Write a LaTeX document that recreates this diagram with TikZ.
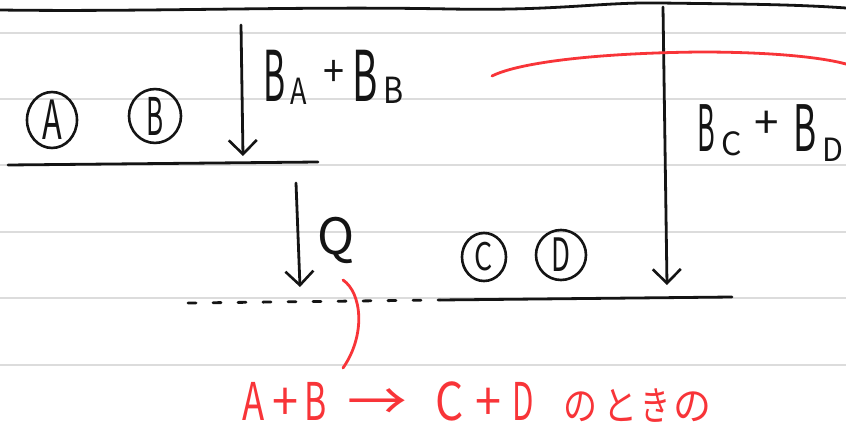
\documentclass[tikz,border=0pt]{standalone}
\usepackage{fontspec}
\setmainfont{Noto Sans CJK JP}
\usetikzlibrary{arrows.meta,shapes.geometric}
\definecolor{ink}{RGB}{20,20,20}
\definecolor{redink}{RGB}{248,52,56}
\definecolor{rule}{RGB}{220,220,220}
% glyph in a box of given width, squeezed horizontally
\newcommand{\gl}[3]{\makebox[#1][c]{\scalebox{#2}[1]{#3}}}
\newcommand{\fs}[1]{\fontsize{#1}{#1}\selectfont}
\tikzset{
  ruled/.style={draw=rule, line width=2.2pt},
  inkline/.style={draw=ink, line width=2.8pt, line cap=round, line join=round},
  arr/.style={inkline, -{Straight Barb[length=14pt,width=28pt,line width=2.6pt]}},
  circ/.style={ellipse, draw=ink, line width=2.6pt, inner sep=0pt, text=ink},
  lbl/.style={inner sep=0pt, text=ink, anchor=base west},
  redline/.style={draw=redink, line width=2.8pt, line cap=round},
}
\begin{document}
\begin{tikzpicture}[x=1pt,y=-1pt]
\useasboundingbox (0,0) rectangle (846,428);
\fill[white] (0,0) rectangle (846,428);
% ruled paper lines
\foreach \yy in {33,99,165,232,298,365} \draw[ruled] (0,\yy) -- (846,\yy);
% top wavy line
\draw[inkline] (0,10) .. controls (150,12) and (300,6) .. (450,9) .. controls (560,11) and (600,2) .. (660,3) .. controls (730,4) and (790,4) .. (846,8);
% left level
\coordinate (L1a) at (8,165);
\coordinate (L1b) at (318,162);
\draw[inkline] (L1a) -- (L1b);
% right level (dashed + solid)
\coordinate (L2a) at (188,303);
\coordinate (L2m) at (440,300);
\coordinate (L2b) at (732,297);
\draw[inkline, dash pattern=on 8pt off 17pt] (L2a) -- (L2m);
\draw[inkline] (L2m) -- (L2b);
% circles
\node[circ, minimum width=50pt, minimum height=53pt] (A) at (52,120) {\fs{54}\scalebox{0.6}[1]{A}};
\node[circ, minimum width=52pt, minimum height=52pt] (B) at (155,116) {\fs{52}\scalebox{0.5}[1]{B}};
\node[circ, minimum width=44pt, minimum height=48pt] (C) at (484,257) {\fs{38}\scalebox{0.75}[1]{C}};
\node[circ, minimum width=50pt, minimum height=50pt] (D) at (561,255) {\fs{46}\scalebox{0.6}[1]{D}};
% arrow 1
\coordinate (a1s) at (241,25);
\coordinate (a1e) at (243,156);
\draw[arr] (a1s) -- (a1e);
\node[lbl] (BAB) at (263,101) {\fs{70}\gl{22pt}{0.48}{B}\hspace{5pt}\raisebox{-3pt}{\fs{36}\gl{17pt}{0.75}{A}}\hspace{16pt}\raisebox{14pt}{\fs{42}\gl{22pt}{0.9}{+}}\hspace{7pt}\gl{25pt}{0.55}{B}\hspace{6pt}\raisebox{-2pt}{\fs{36}\gl{20pt}{0.85}{B}}};
% arrow Q
\coordinate (aQs) at (296,183);
\coordinate (aQe) at (300,287);
\draw[arr] (aQs) -- (aQe);
\node[lbl] (Q) at (312,254) {\fs{50}\gl{48pt}{1.0}{Q}};
% long arrow
\coordinate (a2s) at (663,7);
\coordinate (a2e) at (667,285);
\draw[arr] (a2s) -- (a2e);
\node[lbl] (BCD) at (697,151) {\fs{64}\gl{18pt}{0.42}{B}\hspace{5pt}\raisebox{-4pt}{\fs{32}\gl{23pt}{1.0}{C}}\hspace{11pt}\raisebox{13pt}{\fs{44}\gl{26pt}{1.0}{+}}\hspace{12pt}\gl{25pt}{0.55}{B}\hspace{6pt}\raisebox{-10pt}{\fs{32}\gl{20pt}{0.95}{D}}};
% red curve
\coordinate (r1) at (492,76);
\coordinate (r2) at (846,64);
\draw[redline] (r1) .. controls (520,62) and (600,53) .. (700,52) .. controls (770,52) and (820,57) .. (r2);
% red bracket
\coordinate (k1) at (343,280);
\coordinate (k2) at (343,368);
\draw[redline] (k1) .. controls (362,293) and (366,335) .. (k2);
% red text
\node[lbl, text=redink] (txt) at (240,420) {\fs{52}\gl{27pt}{0.7}{A}\hspace{8pt}\gl{20pt}{0.9}{+}\hspace{8pt}\gl{25pt}{0.65}{B}\hspace{20pt}\gl{59pt}{1.15}{→}\hspace{26pt}\gl{32pt}{0.85}{C}\hspace{12pt}\gl{22pt}{0.9}{+}\hspace{13pt}\gl{23pt}{0.6}{D}\hspace{30pt}{\fs{40}\gl{30pt}{0.85}{の}\hspace{10pt}\gl{30pt}{0.85}{と}\hspace{8pt}\gl{24pt}{0.75}{き}\hspace{8pt}\gl{35pt}{0.95}{の}}};
\end{tikzpicture}
\end{document}
